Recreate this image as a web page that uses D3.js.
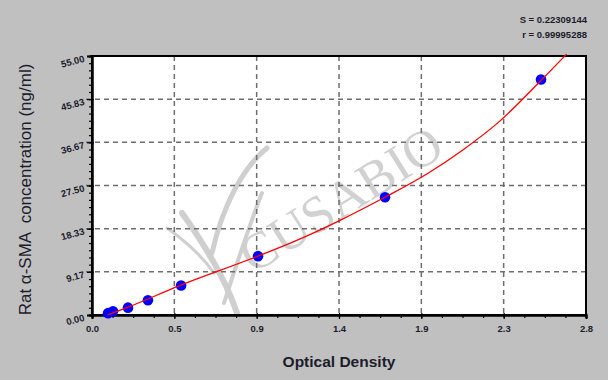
<!DOCTYPE html>
<html>
<head>
<meta charset="utf-8">
<script src="https://cdn.jsdelivr.net/npm/d3@7"></script>
<style>
  body { margin: 0; background: #c0c0c0; }
  svg { display: block; font-family: "Liberation Sans", Arial, sans-serif; }
</style>
</head>
<body>
<div id="chart"></div>
<script>
// standard points (optical density vs concentration)
var odValues = [0.091, 0.119, 0.204, 0.317, 0.505, 0.941, 1.661, 2.545];
var concValues = [0.39, 0.78, 1.56, 3.13, 6.25, 12.5, 25, 50];

// fitted curve
var fitOd = [0.087, 0.2, 0.5, 0.94, 1.2, 1.4, 1.66, 1.9, 2.1, 2.3, 2.55, 2.69];
var fitConc = [0, 1.6, 6.3, 12.5, 16.5, 20, 25, 30, 35, 40.8, 50, 55.4];

var xTickLabels = ["0.0", "0.5", "0.9", "1.4", "1.9", "2.3", "2.8"];
var yTickLabels = ["0.00", "9.17", "18.33", "27.50", "36.67", "45.83", "55.00"];
var fitStats = ["S = 0.22309144", "r = 0.99995288"];

var xMax = 2.8, yMax = 55;

var width = 608,
    height = 380;
var margin = {top: 56, right: 22, bottom: 65, left: 92};
var plotW = width - margin.left - margin.right,
    plotH = height - margin.top - margin.bottom;

var svg = d3.select("#chart")
    .append("svg")
    .attr("width", width)
    .attr("height", height);

svg.append("rect")
    .attr("width", width)
    .attr("height", height)
    .attr("fill", "#c0c0c0");

var x = d3.scaleLinear().domain([0, xMax]).range([0, plotW]);
var y = d3.scaleLinear().domain([0, yMax]).range([plotH, 0]);

var xMajor = xTickLabels.map(function (d, i) { return i * xMax / 6; });
var yMajor = yTickLabels.map(function (d, i) { return i * yMax / 6; });
var xMinor = d3.range(0, 25).map(function (i) { return i * xMax / 24; });
var yMinor = d3.range(0, 37).map(function (i) { return i * yMax / 36; });

var g = svg.append("g")
    .attr("transform", "translate(" + margin.left + "," + margin.top + ")");

g.append("rect")
    .attr("width", plotW)
    .attr("height", plotH)
    .attr("fill", "#fff");

// watermark
var wm = g.append("g")
    .attr("transform", "translate(" + (350 - margin.left) + "," + (214 - margin.top) + ") rotate(-32)");
wm.append("text")
    .attr("text-anchor", "middle")
    .attr("font-family", "'Liberation Serif', 'DejaVu Serif', serif")
    .attr("font-size", 52)
    .attr("fill", "#c2c2c2")
    .attr("opacity", 0.75)
    .text("CUSABIO");
var swoosh = g.append("g")
    .attr("transform", "translate(" + (222 - margin.left) + "," + (228 - margin.top) + ")")
    .attr("fill", "none")
    .attr("stroke", "#cfcfcf")
    .attr("stroke-linecap", "round");
swoosh.append("path").attr("d", "M-40,-15 C-15,20 5,55 15,85").attr("stroke-width", 6);
swoosh.append("path").attr("d", "M-10,25 C0,-20 20,-60 45,-80").attr("stroke-width", 5);
swoosh.append("path").attr("d", "M2,75 C15,35 28,-5 40,-35").attr("stroke-width", 4);
swoosh.append("path").attr("d", "M-55,0 C-38,12 -20,28 -8,45").attr("stroke-width", 3);

// dashed grid
g.selectAll(".vgrid")
    .data(xMajor.slice(1, -1))
    .enter().append("line")
    .attr("class", "vgrid")
    .attr("x1", function (d) { return x(d); })
    .attr("x2", function (d) { return x(d); })
    .attr("y1", 0)
    .attr("y2", plotH)
    .attr("stroke", "#6e6e6e")
    .attr("stroke-width", 1.5)
    .attr("stroke-dasharray", "5,4");

g.selectAll(".hgrid")
    .data(yMajor.slice(1, -1))
    .enter().append("line")
    .attr("class", "hgrid")
    .attr("x1", -6)
    .attr("x2", plotW)
    .attr("y1", function (d) { return y(d); })
    .attr("y2", function (d) { return y(d); })
    .attr("stroke", "#6e6e6e")
    .attr("stroke-width", 1.5)
    .attr("stroke-dasharray", "5,4");

// axes
var xAxisMinor = d3.axisBottom(x).tickValues(xMinor).tickSize(3).tickFormat("");
var xAxis = d3.axisBottom(x).tickValues(xMajor).tickSize(4).tickFormat(function (d, i) { return xTickLabels[i]; });
var yAxisMinor = d3.axisLeft(y).tickValues(yMinor).tickSize(3).tickFormat("");
var yAxis = d3.axisLeft(y).tickValues(yMajor).tickSize(5).tickFormat(function (d, i) { return yTickLabels[i]; });

g.append("g").attr("transform", "translate(0," + plotH + ")").call(xAxisMinor);
var gx = g.append("g").attr("transform", "translate(0," + plotH + ")").call(xAxis);
g.append("g").call(yAxisMinor);
var gy = g.append("g").call(yAxis);

g.selectAll(".domain").attr("stroke", "#000").attr("stroke-width", 2);
g.selectAll(".tick line").attr("stroke", "#000").attr("stroke-width", 1.2);

gx.selectAll(".tick line").attr("y1", -2);
gx.selectAll("text")
    .attr("y", 10)
    .attr("font-size", 9.5)
    .attr("font-weight", "bold")
    .attr("fill", "#1c1c2c");

gy.selectAll(".tick line").attr("x1", 2);
gy.selectAll("text")
    .attr("x", -8)
    .attr("dy", "0.32em")
    .attr("transform", "rotate(-15)")
    .attr("font-size", 9.5)
    .attr("font-weight", "bold")
    .attr("fill", "#1c1c2c");

// frame
g.append("rect")
    .attr("width", plotW)
    .attr("height", plotH)
    .attr("fill", "none")
    .attr("stroke", "#000")
    .attr("stroke-width", 2);

// fitted line
var fitData = fitOd.map(function (d, i) { return {od: d, conc: fitConc[i]}; });
var line = d3.line()
    .x(function (d) { return x(d.od); })
    .y(function (d) { return y(d.conc); })
    .curve(d3.curveMonotoneX);

// points
var points = odValues.map(function (d, i) { return {od: d, conc: concValues[i]}; });
g.selectAll(".pt")
    .data(points)
    .enter().append("circle")
    .attr("class", "pt")
    .attr("cx", function (d) { return x(d.od); })
    .attr("cy", function (d) { return y(d.conc); })
    .attr("r", 5.3)
    .attr("fill", "#0000ff");

g.append("path")
    .datum(fitData)
    .attr("d", line)
    .attr("fill", "none")
    .attr("stroke", "#ff0000")
    .attr("stroke-width", 1.3);

// titles
svg.append("text")
    .attr("x", margin.left + plotW / 2)
    .attr("y", 367)
    .attr("text-anchor", "middle")
    .attr("font-size", 15.5)
    .attr("font-weight", "bold")
    .attr("fill", "#1c1c2c")
    .text("Optical Density");

svg.append("text")
    .attr("transform", "translate(31," + (margin.top + plotH / 2 + 4) + ") rotate(-90)")
    .attr("text-anchor", "middle")
    .attr("font-size", 17)
    .attr("fill", "#1c1c2c")
    .attr("xml:space", "preserve")
    .style("white-space", "pre")
    .text("Rat \u03b1-SMA  concentration (ng/ml)");

svg.selectAll(".stat")
    .data(fitStats)
    .enter().append("text")
    .attr("class", "stat")
    .attr("x", 587)
    .attr("y", function (d, i) { return 23 + i * 15; })
    .attr("text-anchor", "end")
    .attr("font-size", 9.5)
    .attr("font-weight", "bold")
    .attr("fill", "#1c1c2c")
    .text(function (d) { return d; });
</script>
</body>
</html>
